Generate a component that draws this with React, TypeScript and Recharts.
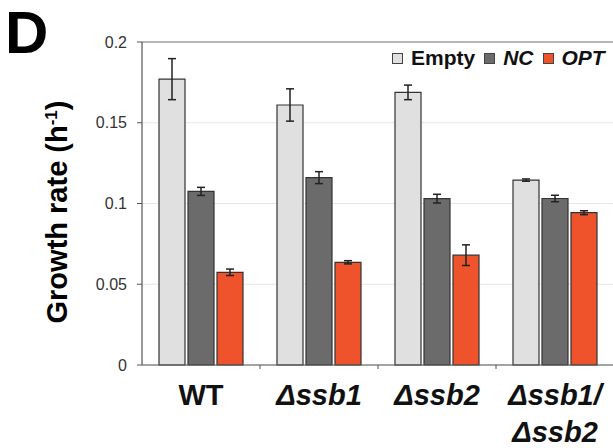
import React from "react";
import { BarChart, Bar, XAxis, YAxis, CartesianGrid, ErrorBar, ReferenceLine } from "recharts";

const categories = ["WT", "Δssb1", "Δssb2", "Δssb1/|Δssb2"];
const emptyVals = [0.177, 0.161, 0.1688, 0.1145];
const emptyErr = [0.0127, 0.01, 0.0045, 0.0007];
const ncVals = [0.1075, 0.116, 0.103, 0.1031];
const ncErr = [0.0025, 0.0037, 0.0027, 0.002];
const optVals = [0.0574, 0.0636, 0.068, 0.0943];
const optErr = [0.002, 0.001, 0.0064, 0.0012];
const yTicks = [0, 0.05, 0.1, 0.15, 0.2];

const seriesNames = ["Empty", "NC", "OPT"];
const seriesKeys = ["empty", "nc", "opt"];
const seriesColors = ["#e0e0e0", "#6b6b6b", "#ef532b"];
const seriesItalic = [false, true, true];

const data = categories.map((name, i) => ({
  name,
  empty: emptyVals[i],
  emptyErr: emptyErr[i],
  nc: ncVals[i],
  ncErr: ncErr[i],
  opt: optVals[i],
  optErr: optErr[i],
}));

const FONT = "'Liberation Sans', Arial, Helvetica, sans-serif";
const W = 613;
const H = 448;
const M = { top: 42, right: -1, left: 82, bottom: 0 };
const Y_W = 60;
const X_H = 83;
const HALF_BAND = (W - M.left - Y_W - M.right) / categories.length / 2;

const XTick = (props: any) => {
  const { x, y, payload } = props;
  const lines = String(payload.value).split("|");
  const italic = String(payload.value).startsWith("Δ");
  return (
    <g>
      <line x1={x + HALF_BAND} x2={x + HALF_BAND} y1={y - 8} y2={y - 4} stroke="#555" strokeWidth={1} />
      {lines.map((l, k) => (
        <text
          key={k}
          x={x}
          y={y + 32 + k * 37}
          textAnchor="middle"
          fontFamily={FONT}
          fontWeight="bold"
          fontStyle={italic ? "italic" : "normal"}
          fontSize={29}
          fill="#111"
        >
          {l}
        </text>
      ))}
    </g>
  );
};

export default function App() {
  return (
    <div style={{ position: "absolute", left: 0, top: 0, width: W, height: H, background: "#fff" }}>
      <BarChart width={W} height={H} data={data} margin={M} barSize={26} barGap={3}>
        <CartesianGrid vertical={false} stroke="#e6e6e6" strokeWidth={1.2} />
        <ReferenceLine y={0.2} stroke="#7a7a7a" strokeWidth={1.2} />
        <XAxis
          dataKey="name"
          height={X_H}
          interval={0}
          tickLine={false}
          axisLine={{ stroke: "#555", strokeWidth: 1.2 }}
          tick={<XTick />}
        />
        <YAxis
          width={Y_W}
          domain={[0, 0.2]}
          ticks={yTicks}
          tickSize={5}
          tickMargin={10}
          axisLine={{ stroke: "#555", strokeWidth: 1.2 }}
          tickLine={{ stroke: "#555" }}
          tick={{ fontFamily: FONT, fontSize: 16, fill: "#333" }}
        />
        {seriesKeys.map((k, i) => (
          <Bar
            key={k}
            dataKey={k}
            name={seriesNames[i]}
            fill={seriesColors[i]}
            stroke="#333"
            strokeWidth={1.2}
            isAnimationActive={false}
          >
            <ErrorBar dataKey={k + "Err"} width={4} stroke="#222" strokeWidth={1.5} />
          </Bar>
        ))}
      </BarChart>
      <div
        style={{
          position: "absolute",
          left: 392,
          top: 47,
          display: "flex",
          alignItems: "center",
          fontFamily: FONT,
          fontWeight: "bold",
          fontSize: 21,
          lineHeight: "22px",
          color: "#111",
          whiteSpace: "nowrap",
        }}
      >
        {seriesNames.map((n, i) => (
          <div key={n} style={{ display: "flex", alignItems: "center", marginRight: 9 }}>
            <div style={{ width: 9, height: 9, background: seriesColors[i], border: "1px solid #444", marginRight: 8 }} />
            <span style={{ fontStyle: seriesItalic[i] ? "italic" : "normal" }}>{n}</span>
          </div>
        ))}
      </div>
      <svg width={W} height={H} style={{ position: "absolute", left: 0, top: 0, pointerEvents: "none" }}>
        <text x={5} y={53} fontFamily={FONT} fontWeight="bold" fontSize={60} fill="#000">
          D
        </text>
        <text
          transform="translate(67, 212) rotate(-90)"
          textAnchor="middle"
          fontFamily={FONT}
          fontWeight="bold"
          fontSize={29}
          fill="#000"
        >
          Growth rate (h
          <tspan fontSize={17} dy={-10}>-1</tspan>
          <tspan dy={10}>)</tspan>
        </text>
      </svg>
    </div>
  );
}
